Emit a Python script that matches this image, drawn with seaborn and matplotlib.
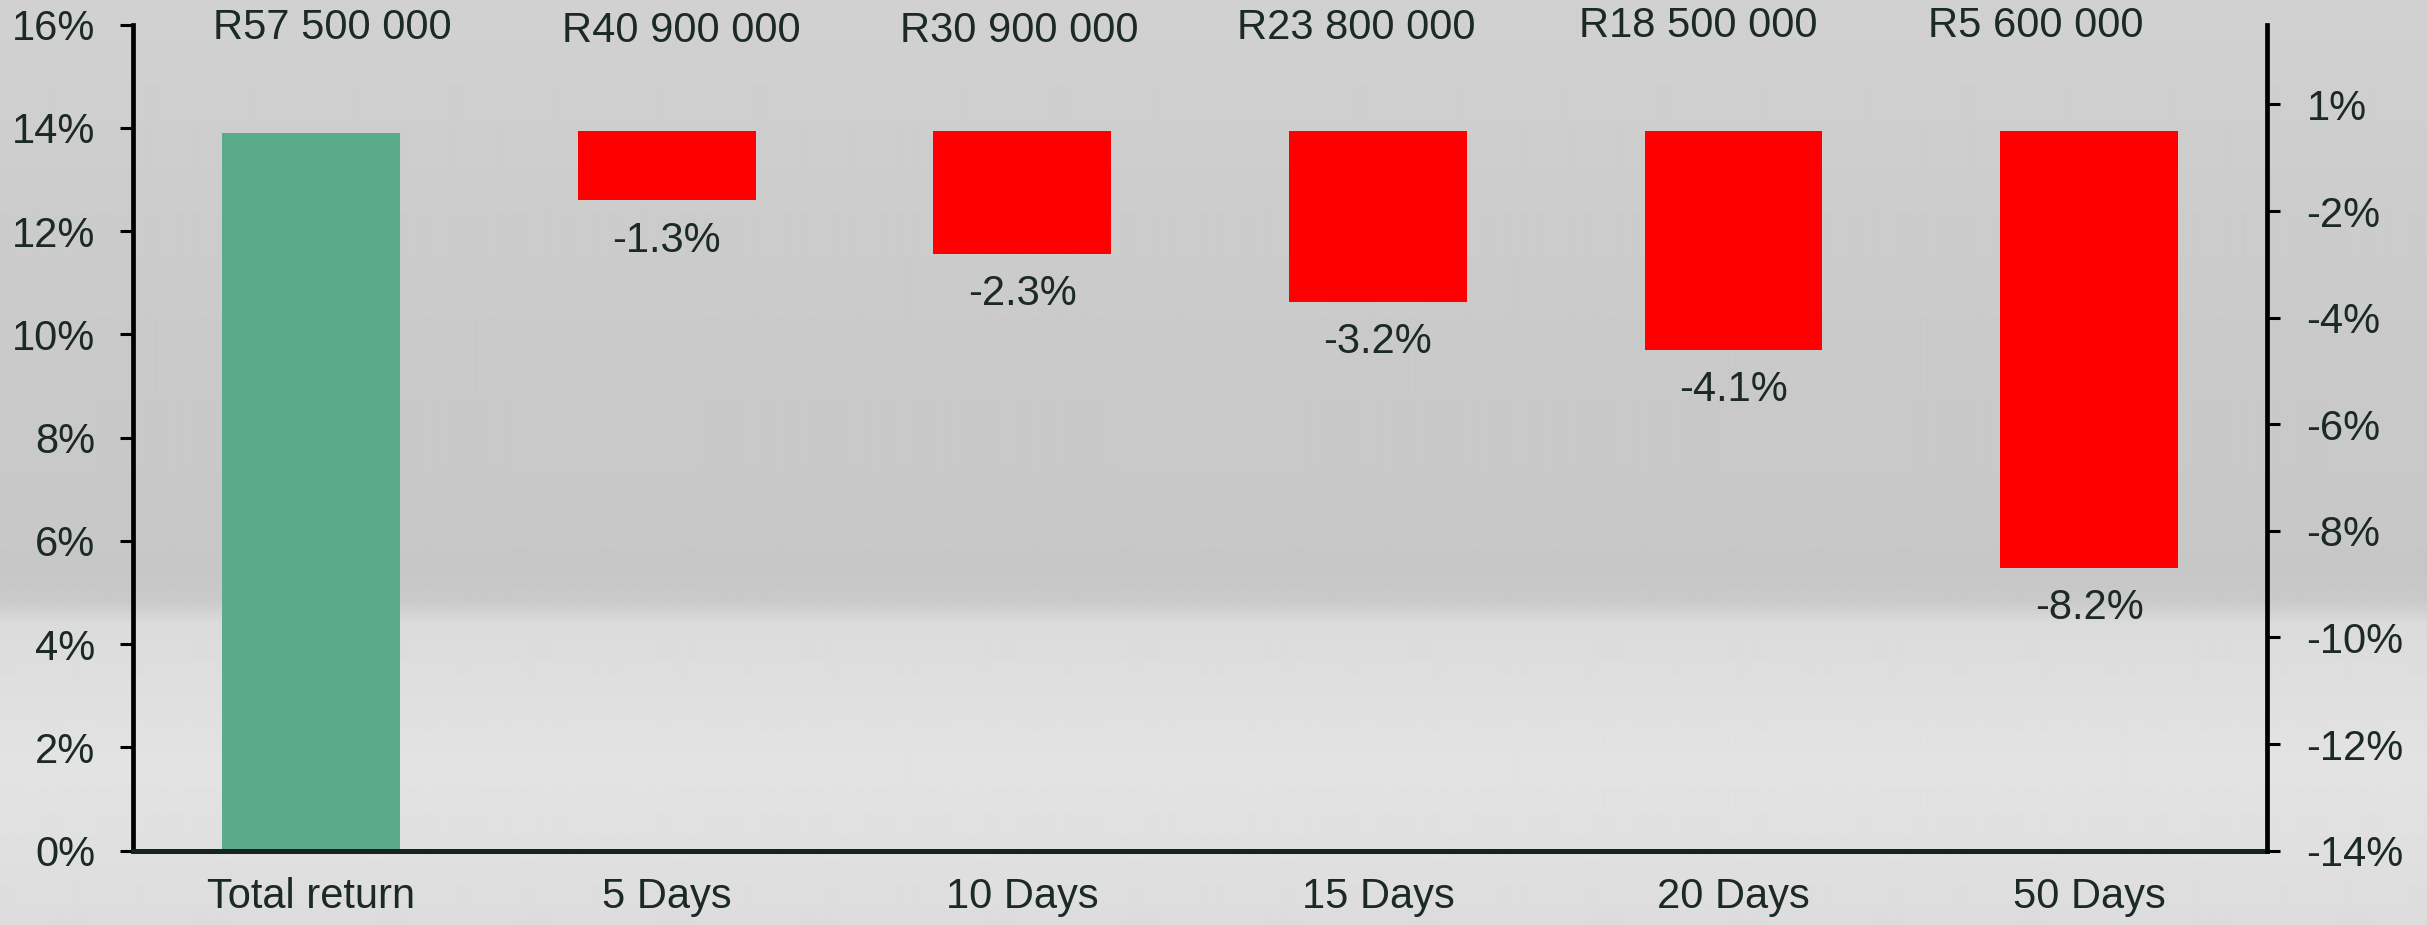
import numpy as np
import matplotlib
matplotlib.use("Agg")
import matplotlib.pyplot as plt
import matplotlib.transforms as mtransforms
from matplotlib.ticker import FixedLocator, FuncFormatter, MultipleLocator
import seaborn as sns
from decimal import Decimal, ROUND_HALF_UP

# data
categories = ["Total return", "5 Days", "10 Days", "15 Days", "20 Days", "50 Days"]
total_return = [13.9]
drawdowns = [-1.3, -2.3, -3.2, -4.1, -8.2]
amounts = ["R57 500 000", "R40 900 000", "R30 900 000", "R23 800 000", "R18 500 000", "R5 600 000"]

# where the amount captions sit (x in category units, y in px from the top)
amount_x = [0.06, 1.04, 1.99, 2.94, 3.90, 4.85]
amount_y = [28, 31, 31, 28, 26, 26]

W, H, DPI = 2427, 925, 100
sns.set_style("white")
plt.rcParams["font.family"] = ["Liberation Sans", "DejaVu Sans"]
text_color = "#1b2a25"
fs = 30

fig = plt.figure(figsize=(W / DPI, H / DPI), dpi=DPI)

# grey gradient backdrop
bg = fig.add_axes([0, 0, 1, 1], zorder=-10)
stops_y = [0.0, 0.3, 0.62, 0.65, 0.675, 0.83, 1.0]
stops_v = [0.82, 0.795, 0.78, 0.79, 0.86, 0.89, 0.865]
grad = np.interp(np.linspace(0, 1, H), stops_y, stops_v)[:, None] * np.ones((1, 4))
bg.imshow(grad, cmap="gray", vmin=0, vmax=1, aspect="auto", interpolation="bilinear")
bg.axis("off")

ax = fig.add_axes([133.3 / W, 1 - 850.7 / H, (2267 - 133.3) / W, (850.7 - 24.5) / H])
ax.set_facecolor("none")
sns.barplot(x=categories[:1], y=total_return, order=categories, color="#5aab8a",
            saturation=1, width=0.5, linewidth=0, ax=ax)

ax2 = ax.twinx()
sns.barplot(x=categories[1:], y=drawdowns, order=categories, color="#ff0000",
            saturation=1, width=0.5, linewidth=0, ax=ax2)

ax.set_xlim(-0.5, len(categories) - 0.5)
ax.set_ylim(0, 16)
ax2.set_ylim(-13.5, 2.0)
for a in (ax, ax2):
    a.set_xlabel("")
    a.set_ylabel("")

# left axis
ax.yaxis.set_major_locator(MultipleLocator(2))
ax.yaxis.set_major_formatter(FuncFormatter(lambda v, _: f"{v:.0f}%"))

# right axis: ticks at half steps, rounded half-up like a spreadsheet
def half_up(v, _):
    return f"{Decimal(str(round(v, 3))).quantize(Decimal('1'), rounding=ROUND_HALF_UP)}%"

ax2.yaxis.set_major_locator(FixedLocator(np.arange(-13.5, 1.0, 2.0)))
ax2.yaxis.set_major_formatter(FuncFormatter(half_up))

# x axis: ticks between categories, labels at centres
ax.set_xticks(np.arange(-0.5, len(categories), 1.0))
ax.set_xticklabels([])
ax.set_xticks(np.arange(len(categories)), minor=True)
ax.set_xticklabels(categories, minor=True)
ax.tick_params(axis="x", which="major", direction="out", length=9.4, width=2.2, color="black")
ax.tick_params(axis="x", which="minor", length=0, pad=19, labelsize=fs, labelcolor=text_color)
ax.tick_params(axis="y", direction="out", length=9.4, width=2.2, color="black", pad=18,
               labelsize=fs, labelcolor=text_color)
ax2.tick_params(axis="y", direction="out", length=9.4, width=2.2, color="black", pad=19,
                labelsize=fs, labelcolor=text_color)

for s in ("top", "right"):
    ax.spines[s].set_visible(False)
for s in ("top", "left", "bottom"):
    ax2.spines[s].set_visible(False)
ax.spines["left"].set_linewidth(3.4)
ax.spines["left"].set_color("black")
ax.spines["bottom"].set_linewidth(3.6)
ax.spines["bottom"].set_color("#15241f")
ax2.spines["right"].set_linewidth(3.4)
ax2.spines["right"].set_color("black")
ax.spines["bottom"].set_zorder(5)

# value labels under the red bars
for i, v in enumerate(drawdowns, start=1):
    ax2.annotate(f"{v:.1f}%", xy=(i, v), xytext=(0, -29), textcoords="offset points",
                 ha="center", va="center", fontsize=fs, color=text_color)

# rand amounts across the top
trans = mtransforms.blended_transform_factory(ax.transData, fig.transFigure)
for x, y, s in zip(amount_x, amount_y, amounts):
    ax.text(x, 1 - y / H, s, transform=trans, ha="center", va="center",
            fontsize=fs, color=text_color, clip_on=False)

fig.savefig("out.png", dpi=DPI)
